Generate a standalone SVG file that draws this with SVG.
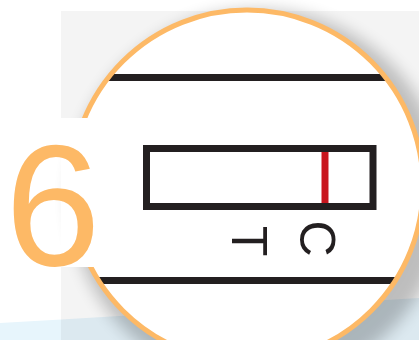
<svg xmlns="http://www.w3.org/2000/svg" width="419" height="340" viewBox="0 0 419 340">
  <defs>
    <style>
      .ink { fill: none; stroke: #231f20; stroke-width: 7; }
      .lbl { font-family: "Liberation Sans", Arial, sans-serif; font-size: 50px; fill: #231f20; text-anchor: middle; }
      .big { font-family: "Liberation Sans", Arial, sans-serif; font-size: 172px; fill: #fdb966; }
    </style>
    <filter id="blur" x="-20%" y="-20%" width="140%" height="140%">
      <feGaussianBlur stdDeviation="8"/>
    </filter>
    <clipPath id="lensClip">
      <circle cx="247" cy="186" r="176"/>
    </clipPath>
  </defs>

  <rect width="419" height="340" fill="#ffffff"/>
  <g id="backdrop">
    <rect x="61" y="11" width="358" height="329" fill="#f4f4f4"/>
    <polygon points="0,323 61,319.4 61,340 0,340" fill="#e7f5fc"/>
    <polygon points="61,319.4 419,298 419,340 61,340" fill="#dce9f0"/>
  </g>

  <g id="lens">
    <circle cx="258" cy="197" r="188" fill="#000" opacity="0.22" filter="url(#blur)"/>
    <circle cx="247" cy="186" r="176" fill="#ffffff"/>
    <g clip-path="url(#lensClip)">
      <line class="ink" x1="60" y1="77.5" x2="430" y2="77.5"/>
      <line class="ink" x1="60" y1="280.5" x2="430" y2="280.5"/>
    </g>
    <circle cx="247" cy="186" r="176" fill="none" stroke="#fdb966" stroke-width="5"/>
  </g>

  <g id="test-strip">
    <rect class="ink" x="146.5" y="148.5" width="226.5" height="58"/>
    <line x1="325" y1="152" x2="325" y2="203" stroke="#c8161e" stroke-width="7"/>
  </g>

  <g id="label-T">
    <text class="lbl" transform="translate(232,241) rotate(90)">T</text>
  </g>
  <g id="label-C">
    <text class="lbl" transform="translate(300,238.5) rotate(90)">C</text>
  </g>

  <g id="digit-6">
    <rect x="61" y="118" width="39" height="149" fill="#ffffff"/>
    <text class="big" x="5" y="265">6</text>
  </g>
</svg>
